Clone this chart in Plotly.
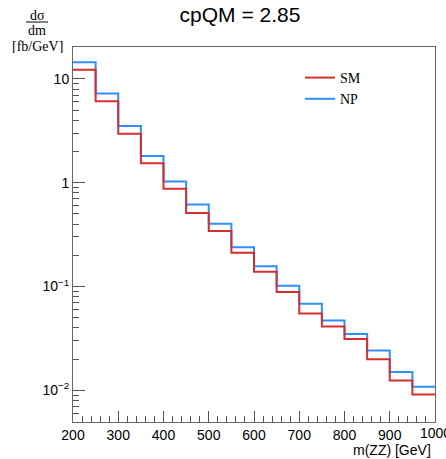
import plotly.graph_objects as go

# bin edges (GeV)
edges = [200, 250, 300, 350, 400, 450, 500, 550, 600, 650, 700, 750, 800, 850, 900, 950, 1000]
# dσ/dm [fb/GeV] per bin
sm = [12.3, 6.1, 2.96, 1.54, 0.875, 0.512, 0.343, 0.211, 0.139, 0.0883, 0.0550, 0.0412, 0.0312, 0.0199, 0.0124, 0.0091]
np_ = [14.5, 7.24, 3.53, 1.81, 1.03, 0.617, 0.402, 0.239, 0.157, 0.1016, 0.0682, 0.0471, 0.0348, 0.0241, 0.0150, 0.0108]

y_major = [0.01, 0.1, 1, 10]
y_major_text = ["10<sup>−2</sup>", "10<sup>−1</sup>", "1", "10"]
y_minor = [m * 10 ** e for e in range(-3, 2) for m in range(2, 10)]
x_major = [200, 300, 400, 500, 600, 700, 800, 900]
x_last = 1000

RED = "#d42f2f"
BLUE = "#2f8fff"

fig = go.Figure()
fig.add_trace(go.Scatter(x=edges, y=np_ + [np_[-1]], mode="lines", line=dict(color=BLUE, width=2, shape="hv"),
                         name="NP"))
fig.add_trace(go.Scatter(x=edges, y=sm + [sm[-1]], mode="lines", line=dict(color=RED, width=2, shape="hv"),
                         name="SM"))

W, H = 446, 459
ml, mr, mt, mb = 73, 11, 47, 37
PW, PH = W - ml - mr, H - mt - mb

tickfont = dict(family="Liberation Sans", size=14, color="black")

fig.update_layout(
    width=W, height=H,
    margin=dict(l=ml, r=mr, t=mt, b=mb),
    paper_bgcolor="white", plot_bgcolor="white",
    showlegend=True,
    legend=dict(x=(300 - ml) / PW, y=1 - (62 - mt) / PH, xanchor="left", yanchor="top",
                traceorder="reversed", itemwidth=30, tracegroupgap=0,
                font=dict(family="Liberation Serif", size=14, color="black"),
                bgcolor="rgba(0,0,0,0)"),
    title=dict(text="cpQM = 2.85", x=240 / W, xanchor="center", y=1 - 15 / H, yanchor="middle",
               font=dict(family="Liberation Sans", size=21, color="black")),
    xaxis=dict(range=[200, 1000], tickvals=x_major + [x_last], ticktext=[str(v) for v in x_major] + [""],
               ticks="inside", ticklen=11, tickcolor="#555", tickwidth=1,
               minor=dict(dtick=20, tick0=200, ticks="inside", ticklen=6, tickcolor="#555", showgrid=False),
               showline=True, linecolor="#666", linewidth=1, mirror=True, showgrid=False, zeroline=False,
               tickfont=tickfont),
    yaxis=dict(type="log", range=[-2.306, 1.308], tickvals=y_major, ticktext=y_major_text,
               ticks="inside", ticklen=12, tickcolor="#555", tickwidth=1,
               minor=dict(tickvals=y_minor, ticks="inside", ticklen=6, tickcolor="#555", showgrid=False),
               showline=True, linecolor="#666", linewidth=1, mirror=True, showgrid=False, zeroline=False,
               tickfont=tickfont),
    font=dict(family="Liberation Sans", color="black"),
)

# last x tick label (clipped by the canvas edge, as in the reference)
fig.add_annotation(xref="x", yref="paper", x=x_last, y=-(433 - (H - mb)) / PH, text=str(x_last),
                   showarrow=False, xanchor="center", yanchor="middle", font=tickfont)

serif = dict(family="Liberation Serif", size=14, color="black")
xc = -36 / PW
fig.add_annotation(xref="paper", yref="paper", x=xc, y=1 + (mt - 15) / PH,
                   text="dσ", showarrow=False, font=serif, xanchor="center", yanchor="middle")
fig.add_annotation(xref="paper", yref="paper", x=xc, y=1 + (mt - 30) / PH,
                   text="dm", showarrow=False, font=serif, xanchor="center", yanchor="middle")
fig.add_annotation(xref="paper", yref="paper", x=xc, y=1 + (mt - 46) / PH,
                   text="[fb/GeV]", showarrow=False, font=serif, xanchor="center", yanchor="middle",
                   height=14, valign="middle")
fig.add_shape(type="line", xref="paper", yref="paper",
              x0=-(73 - 26) / PW, x1=-(73 - 48) / PW,
              y0=1 + (mt - 22) / PH, y1=1 + (mt - 22) / PH,
              line=dict(color="black", width=1))
fig.add_annotation(xref="paper", yref="paper", x=1 - 2 / PW, y=-(450 - (H - mb)) / PH,
                   text="m(ZZ) [GeV]", showarrow=False, xanchor="right", yanchor="middle",
                   font=dict(family="Liberation Sans", size=14, color="black"))

fig.write_html("out.html")
